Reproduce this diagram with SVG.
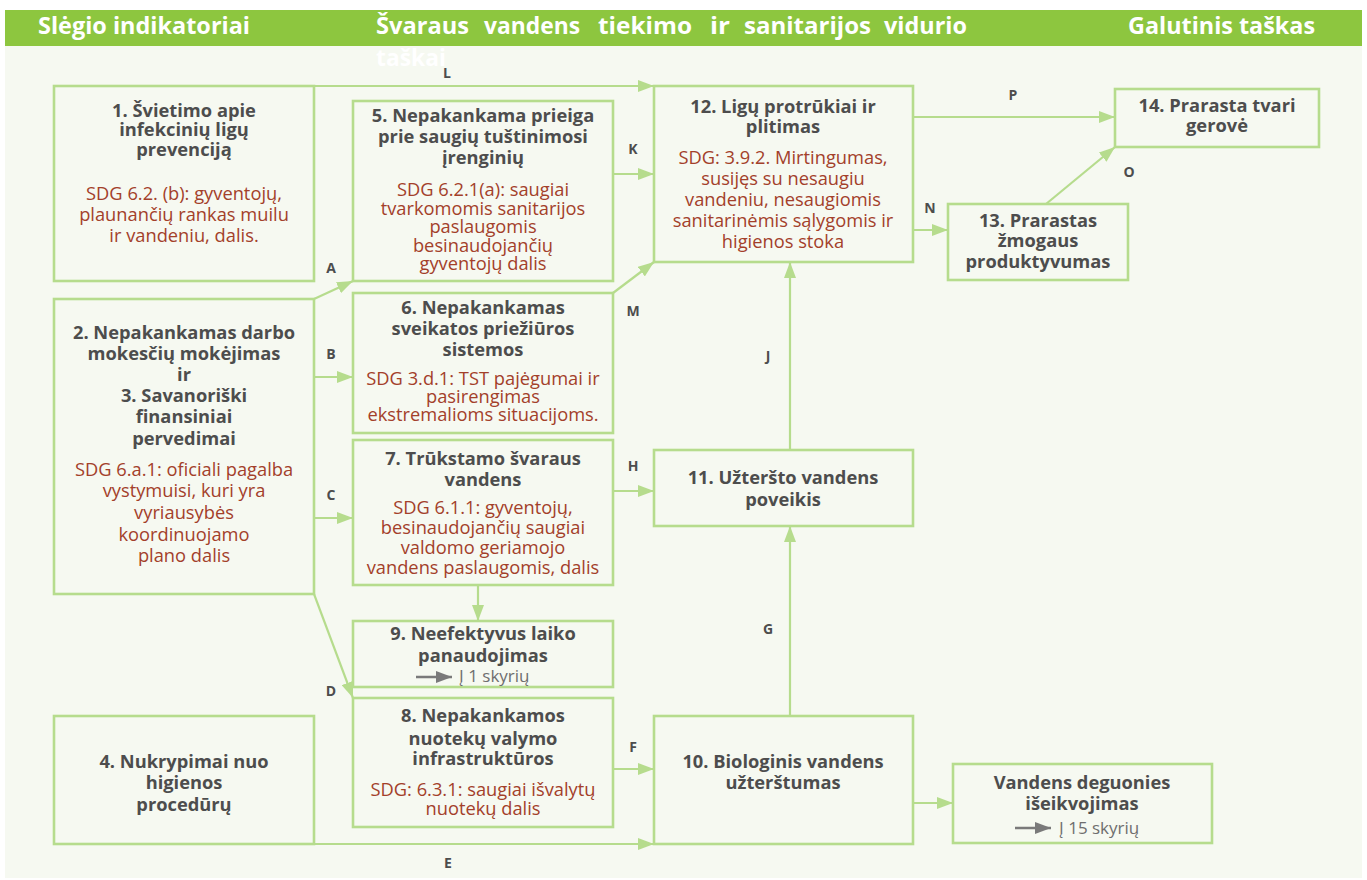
<svg xmlns="http://www.w3.org/2000/svg" width="1367" height="880" viewBox="0 0 1367 880">
<style>
.bx{fill:none;stroke:#b6dc8d;stroke-width:2.6}
.t{font-family:"Open Sans","Noto Sans",sans-serif;font-weight:700;font-size:18.3px;fill:#4d4d4d;text-anchor:middle}
.s{font-family:"Open Sans","Noto Sans",sans-serif;font-weight:400;font-size:18.3px;fill:#a3402a;text-anchor:middle}
.g{font-family:"Open Sans","Noto Sans",sans-serif;font-weight:400;font-size:17px;fill:#6e6e6e}
.lb{font-family:"Open Sans","Noto Sans",sans-serif;font-weight:700;font-size:14px;fill:#4d4d4d;text-anchor:middle}
.h{font-family:"Open Sans","Noto Sans",sans-serif;font-weight:700;font-size:23px;fill:#ffffff}
.c{fill:none;stroke:#b6dc8d;stroke-width:2.2}
</style>
<defs>
<marker id="ah" markerUnits="userSpaceOnUse" markerWidth="16" markerHeight="12" refX="16" refY="6" orient="auto">
<path d="M0,0 L16,6 L0,12 z" fill="#b6dc8d"/>
</marker>
<marker id="gh" markerUnits="userSpaceOnUse" markerWidth="16" markerHeight="12" refX="16" refY="6" orient="auto">
<path d="M0,0 L16,6 L0,12 z" fill="#7a7a7a"/>
</marker>
</defs>
<rect x="0" y="0" width="1367" height="880" fill="#ffffff"/>
<rect x="5" y="10" width="1357" height="868" fill="#f6f9f1"/>
<g id="header">
<rect x="5" y="10" width="1357" height="36" fill="#8dc63f"/>
<text class="h" x="38" y="34" textLength="212" lengthAdjust="spacingAndGlyphs">Slėgio indikatoriai</text>
<text class="h" x="376" y="34" textLength="93" lengthAdjust="spacingAndGlyphs">Švaraus</text>
<text class="h" x="484" y="34" textLength="96" lengthAdjust="spacingAndGlyphs">vandens</text>
<text class="h" x="598" y="34" textLength="94" lengthAdjust="spacingAndGlyphs">tiekimo</text>
<text class="h" x="710" y="34" textLength="20" lengthAdjust="spacingAndGlyphs">ir</text>
<text class="h" x="744" y="34" textLength="127" lengthAdjust="spacingAndGlyphs">sanitarijos</text>
<text class="h" x="884" y="34" textLength="83" lengthAdjust="spacingAndGlyphs">vidurio</text>
<text class="h" x="376" y="66" textLength="70" lengthAdjust="spacingAndGlyphs">taškai</text>
<text class="h" x="1128" y="34" textLength="187" lengthAdjust="spacingAndGlyphs">Galutinis taškas</text>
</g>
<g id="connectors">
<path class="c" marker-end="url(#ah)" d="M314,86 L654,86"/>
<path class="c" marker-end="url(#ah)" d="M913,117 L1115,117"/>
<path class="c" marker-end="url(#ah)" d="M613,174 L654,174"/>
<path class="c" marker-end="url(#ah)" d="M913,230 L948,230"/>
<path class="c" marker-end="url(#ah)" d="M1046,204 L1115,147"/>
<path class="c" marker-end="url(#ah)" d="M314,299 L353,281"/>
<path class="c" marker-end="url(#ah)" d="M613,293 L654,262"/>
<path class="c" marker-end="url(#ah)" d="M314,377 L353,377"/>
<path class="c" marker-end="url(#ah)" d="M314,518 L353,518"/>
<path class="c" marker-end="url(#ah)" d="M613,491 L654,491"/>
<path class="c" marker-end="url(#ah)" d="M478,585 L478,621"/>
<path class="c" marker-end="url(#ah)" d="M314,594 L353,698"/>
<path class="c" marker-end="url(#ah)" d="M613,769 L654,769"/>
<path class="c" marker-end="url(#ah)" d="M314,844 L654,844"/>
<path class="c" marker-end="url(#ah)" d="M790,716 L790,526"/>
<path class="c" marker-end="url(#ah)" d="M790,450 L790,262"/>
<path class="c" marker-end="url(#ah)" d="M913,803 L953,803"/>
<text class="lb" x="447" y="78">L</text>
<text class="lb" x="633" y="154">K</text>
<text class="lb" x="331" y="273">A</text>
<text class="lb" x="633" y="316">M</text>
<text class="lb" x="331" y="359">B</text>
<text class="lb" x="331" y="500">C</text>
<text class="lb" x="633" y="471">H</text>
<text class="lb" x="331" y="696">D</text>
<text class="lb" x="633" y="752">F</text>
<text class="lb" x="448" y="868">E</text>
<text class="lb" x="768" y="634">G</text>
<text class="lb" x="768" y="361">J</text>
<text class="lb" x="930" y="213">N</text>
<text class="lb" x="1013" y="100">P</text>
<text class="lb" x="1129" y="177">O</text>
</g>
<g id="n1">
<rect class="bx" x="54" y="86" width="260" height="195"/>
<text class="t" x="184" y="117">1. Švietimo apie</text>
<text class="t" x="184" y="136">infekcinių ligų</text>
<text class="t" x="184" y="156">prevenciją</text>
<text class="s" x="184" y="200">SDG 6.2. (b): gyventojų,</text>
<text class="s" x="184" y="221">plaunančių rankas muilu</text>
<text class="s" x="184" y="242">ir vandeniu, dalis.</text>
</g>
<g id="n2">
<rect class="bx" x="54" y="299" width="260" height="295"/>
<text class="t" x="184" y="339">2. Nepakankamas darbo</text>
<text class="t" x="184" y="360">mokesčių mokėjimas</text>
<text class="t" x="184" y="381">ir</text>
<text class="t" x="184" y="402">3. Savanoriški</text>
<text class="t" x="184" y="423">finansiniai</text>
<text class="t" x="184" y="445">pervedimai</text>
<text class="s" x="184" y="476">SDG 6.a.1: oficiali pagalba</text>
<text class="s" x="184" y="497">vystymuisi, kuri yra</text>
<text class="s" x="184" y="519">vyriausybės</text>
<text class="s" x="184" y="541">koordinuojamo</text>
<text class="s" x="184" y="562">plano dalis</text>
</g>
<g id="n4">
<rect class="bx" x="54" y="716" width="260" height="128"/>
<text class="t" x="184" y="768">4. Nukrypimai nuo</text>
<text class="t" x="184" y="789">higienos</text>
<text class="t" x="184" y="811">procedūrų</text>
</g>
<g id="n5">
<rect class="bx" x="353" y="101" width="260" height="180"/>
<text class="t" x="483" y="122">5. Nepakankama prieiga</text>
<text class="t" x="483" y="143">prie saugių tuštinimosi</text>
<text class="t" x="483" y="164">įrenginių</text>
<text class="s" x="483" y="195.5">SDG 6.2.1(a): saugiai</text>
<text class="s" x="483" y="214.5">tvarkomomis sanitarijos</text>
<text class="s" x="483" y="233">paslaugomis</text>
<text class="s" x="483" y="251.5">besinaudojančių</text>
<text class="s" x="483" y="270">gyventojų dalis</text>
</g>
<g id="n6">
<rect class="bx" x="353" y="293" width="260" height="140"/>
<text class="t" x="483" y="314">6. Nepakankamas</text>
<text class="t" x="483" y="335">sveikatos priežiūros</text>
<text class="t" x="483" y="356">sistemos</text>
<text class="s" x="483" y="385">SDG 3.d.1: TST pajėgumai ir</text>
<text class="s" x="483" y="403">pasirengimas</text>
<text class="s" x="483" y="421">ekstremalioms situacijoms.</text>
</g>
<g id="n7">
<rect class="bx" x="353" y="440" width="260" height="145"/>
<text class="t" x="483" y="465">7. Trūkstamo švaraus</text>
<text class="t" x="483" y="486">vandens</text>
<text class="s" x="483" y="514">SDG 6.1.1: gyventojų,</text>
<text class="s" x="483" y="534">besinaudojančių saugiai</text>
<text class="s" x="483" y="554">valdomo geriamojo</text>
<text class="s" x="483" y="574">vandens paslaugomis, dalis</text>
</g>
<g id="n9">
<rect class="bx" x="353" y="621" width="260" height="66"/>
<text class="t" x="483" y="640">9. Neefektyvus laiko</text>
<text class="t" x="483" y="662">panaudojimas</text>
<path d="M416,677 L452,677" stroke="#7a7a7a" stroke-width="2.5" marker-end="url(#gh)"/>
<text class="g" x="459" y="682">Į 1 skyrių</text>
</g>
<g id="n8">
<rect class="bx" x="353" y="698" width="260" height="129"/>
<text class="t" x="483" y="722">8. Nepakankamos</text>
<text class="t" x="483" y="745">nuotekų valymo</text>
<text class="t" x="483" y="765">infrastruktūros</text>
<text class="s" x="483" y="796">SDG: 6.3.1: saugiai išvalytų</text>
<text class="s" x="483" y="815">nuotekų dalis</text>
</g>
<g id="n12">
<rect class="bx" x="654" y="86" width="259" height="176"/>
<text class="t" x="783" y="113">12. Ligų protrūkiai ir</text>
<text class="t" x="783" y="133">plitimas</text>
<text class="s" x="783" y="164">SDG: 3.9.2. Mirtingumas,</text>
<text class="s" x="783" y="185">susijęs su nesaugiu</text>
<text class="s" x="783" y="206">vandeniu, nesaugiomis</text>
<text class="s" x="783" y="227">sanitarinėmis sąlygomis ir</text>
<text class="s" x="783" y="248">higienos stoka</text>
</g>
<g id="n11">
<rect class="bx" x="654" y="450" width="259" height="76"/>
<text class="t" x="783" y="484">11. Užteršto vandens</text>
<text class="t" x="783" y="506">poveikis</text>
</g>
<g id="n10">
<rect class="bx" x="654" y="716" width="259" height="128"/>
<text class="t" x="783" y="768">10. Biologinis vandens</text>
<text class="t" x="783" y="789">užterštumas</text>
</g>
<g id="n13">
<rect class="bx" x="948" y="204" width="180" height="76"/>
<text class="t" x="1038" y="227">13. Prarastas</text>
<text class="t" x="1038" y="247">žmogaus</text>
<text class="t" x="1038" y="268">produktyvumas</text>
</g>
<g id="n14">
<rect class="bx" x="1115" y="89" width="204" height="58"/>
<text class="t" x="1217" y="112">14. Prarasta tvari</text>
<text class="t" x="1217" y="132">gerovė</text>
</g>
<g id="n15">
<rect class="bx" x="953" y="764" width="259" height="79"/>
<text class="t" x="1082" y="789">Vandens deguonies</text>
<text class="t" x="1082" y="810">išeikvojimas</text>
<path d="M1015,828 L1051,828" stroke="#7a7a7a" stroke-width="2.5" marker-end="url(#gh)"/>
<text class="g" x="1059" y="834">Į 15 skyrių</text>
</g>
</svg>
